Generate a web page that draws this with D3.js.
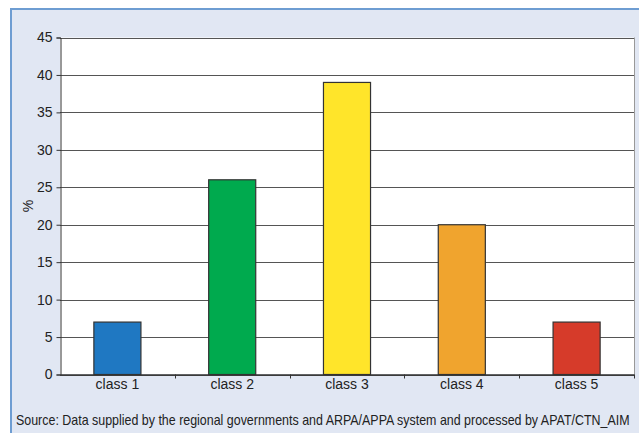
<!DOCTYPE html>
<html><head><meta charset="utf-8">
<script src="https://cdn.jsdelivr.net/npm/d3@7"></script>
<style>body{margin:0;background:#fff}svg{display:block}text{font-family:"Liberation Sans Narrow","Arial Narrow","Liberation Sans",sans-serif;fill:#222}</style>
</head><body><svg id="c" width="639" height="433"></svg>
<script>
const categories = ["class 1","class 2","class 3","class 4","class 5"];
const values = [7, 26, 39, 20, 7];
const colors = ["#1f78c2","#00aa4e","#ffe52a","#f0a42e","#d63b2a"];
const yTicks = [0,5,10,15,20,25,30,35,40,45];
const yLabel = "%";
const source = "Source: Data supplied by the regional governments and ARPA/APPA system and processed by APAT/CTN_AIM";

const svg = d3.select("#c");
svg.append("rect").attr("x",10).attr("y",8).attr("width",629).attr("height",425).attr("fill","#e1e7f3");
svg.append("rect").attr("x",10).attr("y",8).attr("width",629).attr("height",2).attr("fill","#6e9dd2");
svg.append("rect").attr("x",10).attr("y",8).attr("width",2).attr("height",425).attr("fill","#6e9dd2");

const L=60, R=634, T=37.5, B=374.5;
const x = d3.scaleBand().domain(categories).range([L,R]).paddingInner(0.59).paddingOuter(0.295);
const xb = d3.scaleBand().domain(categories).range([L,R]);
const y = d3.scaleLinear().domain([0,45]).range([B,T]);

svg.append("rect").attr("x",L).attr("y",T).attr("width",R-L).attr("height",B-T).attr("fill","#fff");
svg.append("g").selectAll("line").data(yTicks).join("line")
  .attr("x1",L).attr("x2",R).attr("y1",d=>Math.round(y(d))+0.5).attr("y2",d=>Math.round(y(d))+0.5)
  .attr("stroke","#555").attr("stroke-width",1);
svg.append("line").attr("x1",R+0.5).attr("x2",R+0.5).attr("y1",T).attr("y2",B).attr("stroke","#999");

svg.append("g").selectAll("rect").data(values).join("rect")
  .attr("x",(d,i)=>x(categories[i])).attr("width",x.bandwidth())
  .attr("y",d=>y(d)).attr("height",d=>B-y(d))
  .attr("fill",(d,i)=>colors[i]).attr("stroke","#333").attr("stroke-width",1.2);

const ya = svg.append("g").attr("transform",`translate(${L+0.5},0)`)
  .call(d3.axisLeft(y).tickValues(yTicks).tickSize(4).tickPadding(4));
ya.select(".domain").attr("stroke","#333");
ya.selectAll(".tick line").attr("stroke","#333");
ya.selectAll("text").style("font-size","14px").attr("fill","#222");

const xa = svg.append("g").attr("transform",`translate(0,${B})`)
  .call(d3.axisBottom(xb).tickSize(0).tickPadding(5));
xa.select(".domain").attr("stroke","#333").attr("stroke-width",1.5);
xa.selectAll("text").style("font-size","14px").attr("fill","#222");
xa.selectAll(".sep").data(categories.slice(1).concat(["end"])).join("line").attr("class","sep")
  .attr("x1",(d,i)=>Math.round(xb(categories[i])+xb.bandwidth())+0.5)
  .attr("x2",(d,i)=>Math.round(xb(categories[i])+xb.bandwidth())+0.5)
  .attr("y1",0).attr("y2",4).attr("stroke","#333");

svg.append("text").attr("transform","translate(33,206) rotate(-90)").attr("text-anchor","middle")
  .style("font-size","14px").text(yLabel);
const src = svg.append("text").attr("x",0).attr("y",0).style("font-size","14px").text(source);
const natural = src.node().getComputedTextLength();
src.attr("transform",`translate(16,425) scale(${614/natural},1)`);
</script></body></html>
